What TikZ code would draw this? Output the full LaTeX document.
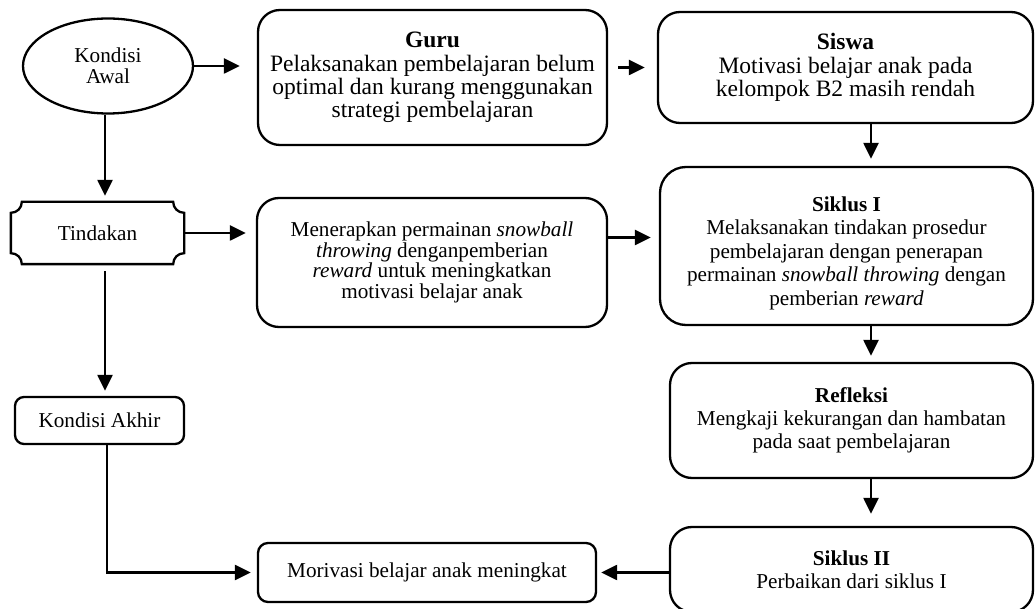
\documentclass[tikz,border=0pt]{standalone}
\usepackage{fontspec}
\setmainfont{Liberation Serif}
\usetikzlibrary{arrows.meta,shapes.geometric}
\begin{document}
\begin{tikzpicture}[x=0.5pt,y=-0.5pt,
  line width=1.15pt,
  box/.style={draw,rounded corners=11pt,align=center,inner sep=0pt,font=\fontsize{10.6}{11.6}\selectfont},
  bigbox/.style={box,font=\fontsize{11.75}{11.6}\selectfont},
  smallbox/.style={box,rounded corners=4.5pt},
  plain/.style={align=center,inner sep=0pt,font=\fontsize{10.6}{10.5}\selectfont},
  arr/.style={-{Triangle[length=8pt,width=7.5pt]}},
]
\useasboundingbox (0,0) rectangle (1035,609);

% nodes
\node[plain,draw,ellipse,minimum width=85pt,minimum height=47.5pt] (awal) at (108,66) {Kondisi\\Awal};
\node[bigbox,minimum width=174.5pt,minimum height=67.5pt] (guru) at (432.5,77.5)
  {\textbf{Guru}\\Pelaksanakan pembelajaran belum\\optimal dan kurang menggunakan\\strategi pembelajaran};
\node[bigbox,minimum width=187.5pt,minimum height=55.5pt] (siswa) at (845.5,67.5)
  {\textbf{Siswa}\\Motivasi belajar anak pada\\kelompok B2 masih rendah};
\node[plain,minimum width=85.5pt,minimum height=30pt] (tin) at (97.5,233) {Tindakan};
\node[box,font=\fontsize{10.6}{10.3}\selectfont,minimum width=175pt,minimum height=64.5pt] (men) at (432,262.5)
  {Menerapkan permainan \textit{snowball}\\\textit{throwing} denganpemberian\\\textit{reward} untuk meningkatkan\\motivasi belajar anak};
\node[box,font=\fontsize{10.6}{11.8}\selectfont,rounded corners=13pt,minimum width=186.5pt,minimum height=79pt] (sik1) at (846.5,246)
  {\raisebox{-3.75pt}[\height][\depth]{\renewcommand{\arraystretch}{1}\begin{tabular}{@{}c@{}}\textbf{Siklus I}\\Melaksanakan tindakan prosedur\\pembelajaran dengan penerapan\\permainan \textit{snowball throwing} dengan\\pemberian \textit{reward}\end{tabular}}};
\node[box,minimum width=181.5pt,minimum height=57.5pt] (ref) at (851.5,420.5)
  {\textbf{Refleksi}\\Mengkaji kekurangan dan hambatan\\pada saat pembelajaran};
\node[box,minimum width=181.5pt,minimum height=42.5pt] (sik2) at (851.5,569.5)
  {\textbf{Siklus II}\\Perbaikan dari siklus I};
\node[smallbox,minimum width=84.5pt,minimum height=23.5pt] (akhir) at (99.5,420.5) {Kondisi Akhir};
\node[smallbox,rounded corners=5pt,minimum width=169pt,minimum height=29.5pt] (mor) at (427,572.5) {Morivasi belajar anak meningkat};

% plaque outline for Tindakan
\draw ([yshift=-5.5pt]tin.north west) arc[start angle=-90,end angle=0,radius=5.5pt]
  -- ([xshift=-5.5pt]tin.north east) arc[start angle=180,end angle=270,radius=5.5pt]
  -- ([yshift=5.5pt]tin.south east) arc[start angle=90,end angle=180,radius=5.5pt]
  -- ([xshift=5.5pt]tin.south west) arc[start angle=0,end angle=90,radius=5.5pt]
  -- cycle;

% connectors
\draw[arr,shorten >=8.5pt] (awal.east) -- (awal.east -| guru.west);
\draw[arr,shorten <=5pt,shorten >=6pt] (guru.east |- siswa.west) -- (siswa.west);
\draw[arr,shorten >=3.5pt] ([xshift=12.75pt]siswa.south) -- ([xshift=12.75pt]siswa.south |- sik1.north);
\draw[arr,shorten >=3pt] ([xshift=12.25pt]sik1.south) -- ([xshift=12.25pt]sik1.south |- ref.north);
\draw[arr,shorten >=6pt] ([xshift=9.75pt]ref.south) -- ([xshift=9.75pt]ref.south |- sik2.north);
\draw[arr,shorten >=2pt] (sik2.west |- mor.east) -- (mor.east);
\draw[arr,shorten >=3pt] ([xshift=-1.5pt]awal.south) -- ([xshift=-1.5pt]awal.south |- tin.north);
\draw[arr,shorten >=5pt] (tin.east) -- (tin.east -| men.west);
\draw[arr,shorten >=4pt] ([yshift=12.5pt]men.east) -- ([yshift=12.5pt]men.east -| sik1.west);
\draw[arr,shorten <=3.5pt,shorten >=2.5pt] ([xshift=3.75pt]tin.south) -- ([xshift=3.75pt]tin.south |- akhir.north);
\draw[arr,shorten >=3pt] ([xshift=3.75pt]akhir.south) |- (mor.west);
\end{tikzpicture}
\end{document}
